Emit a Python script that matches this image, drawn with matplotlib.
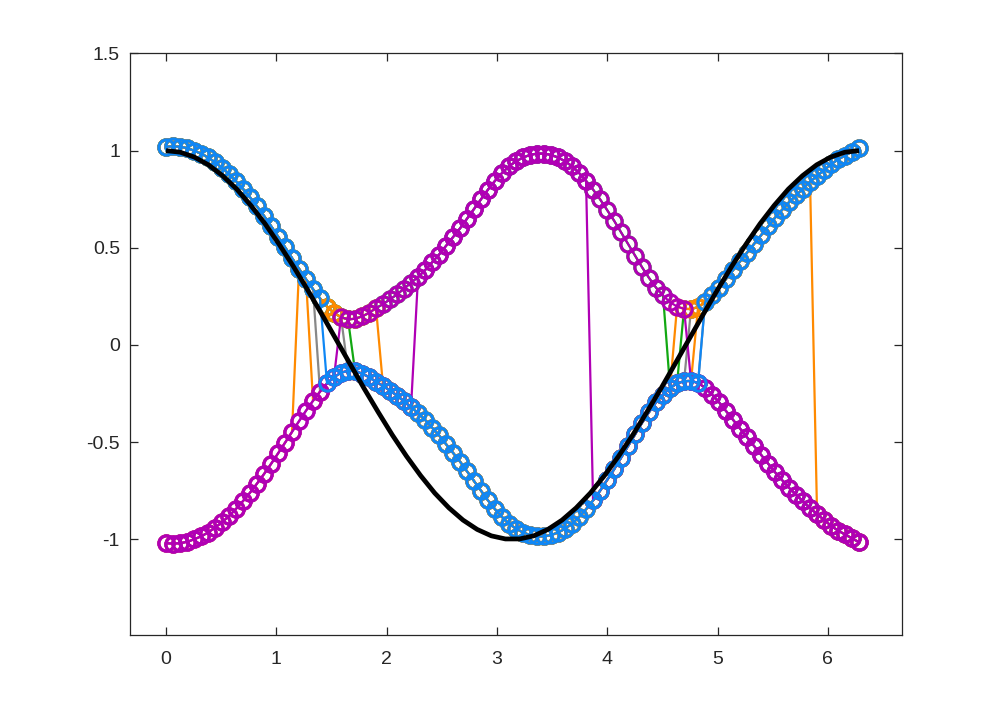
import numpy as np
import matplotlib
matplotlib.use("Agg")
import matplotlib.pyplot as plt

# ---------------- data ----------------
x_start, x_end, n_pts = 0.0, 6.2832, 100

# upper branch (lower branch is its mirror image)
upper = [1.020, 1.022, 1.020, 1.013, 1.000, 0.985, 0.965, 0.940, 0.912, 0.880,
         0.843, 0.803, 0.760, 0.713, 0.664, 0.612, 0.558, 0.503, 0.447, 0.392,
         0.338, 0.287, 0.240, 0.198, 0.165, 0.143, 0.132, 0.135, 0.147, 0.165,
         0.190, 0.210, 0.235, 0.260, 0.290, 0.320, 0.350, 0.385, 0.425, 0.465,
         0.510, 0.555, 0.600, 0.650, 0.700, 0.750, 0.800, 0.845, 0.885, 0.920,
         0.945, 0.965, 0.978, 0.985, 0.985, 0.978, 0.965, 0.945, 0.920, 0.885,
         0.845, 0.800, 0.750, 0.695, 0.640, 0.580, 0.520, 0.460, 0.400, 0.345,
         0.295, 0.255, 0.220, 0.198, 0.186, 0.185, 0.195, 0.220, 0.255, 0.295,
         0.340, 0.385, 0.430, 0.475, 0.520, 0.565, 0.610, 0.655, 0.695, 0.735,
         0.770, 0.805, 0.840, 0.870, 0.900, 0.930, 0.955, 0.975, 0.995, 1.015]
lower = [-u for u in upper]

# series: colour, starting branch, sample indices where the series switches branch
series_colors = ["#12A812", "#12A812", "#888888", "#888888",
                 "#FF8A00", "#FF8A00", "#B000B5", "#B000B5", "#0F87F5"]
series_start = ["U", "U", "U", "U", "L", "U", "L", "L", "U"]
series_switch = [[27, 74], [72], [22, 77], [26, 75],
                 [19, 31, 73, 93], [21, 76], [36, 61], [25, 75], [23, 77]]

# black reference curve
black_x_n = 50
black_y = [1.000, 0.992, 0.967, 0.927, 0.871, 0.802, 0.718, 0.624, 0.518, 0.405,
           0.285, 0.160, 0.032, -0.096, -0.223, -0.345, -0.463, -0.572, -0.672, -0.762,
           -0.838, -0.901, -0.949, -0.982, -0.998, -0.998, -0.982, -0.949, -0.901, -0.838,
           -0.762, -0.672, -0.572, -0.463, -0.345, -0.223, -0.096, 0.032, 0.160, 0.285,
           0.405, 0.518, 0.624, 0.718, 0.802, 0.871, 0.927, 0.967, 0.992, 1.000]

xticks = [0, 1, 2, 3, 4, 5, 6]
xtick_labels = ["0", "1", "2", "3", "4", "5", "6"]
yticks = [-1, -0.5, 0, 0.5, 1, 1.5]
ytick_labels = ["-1", "-0.5", "0", "0.5", "1", "1.5"]

# ---------------- plot ----------------
plt.rcParams["font.family"] = ["Liberation Sans", "DejaVu Sans"]

fig = plt.figure(figsize=(9.97, 7.13), dpi=100)
ax = fig.add_axes([0.13, 0.11, 0.775, 0.815])

x = np.linspace(x_start, x_end, n_pts)

for col, start, sw in zip(series_colors, series_start, series_switch):
    branch = start
    ys = []
    for i in range(n_pts):
        if i in sw:
            branch = "L" if branch == "U" else "U"
        ys.append(upper[i] if branch == "U" else lower[i])
    ax.plot(x, ys, "-", color=col, lw=1.6,
            marker="o", ms=11, mfc="none", mec=col, mew=2.2)

xb = np.linspace(x_start, x_end, black_x_n)
ax.plot(xb, black_y, color="black", lw=3.4, solid_capstyle="butt")

ax.set_xlim(-0.33, 6.675)
ax.set_ylim(-1.49, 1.5)
ax.set_xticks(xticks)
ax.set_xticklabels(xtick_labels)
ax.set_yticks(yticks)
ax.set_yticklabels(ytick_labels)

axis_col = "#262626"
for s in ax.spines.values():
    s.set_color(axis_col)
    s.set_linewidth(0.9)
ax.tick_params(direction="in", length=6, width=0.9, colors=axis_col,
               labelsize=14, top=True, right=True)
ax.tick_params(axis="x", pad=12)
ax.tick_params(axis="y", pad=7)

fig.savefig("out.png", dpi=100)
